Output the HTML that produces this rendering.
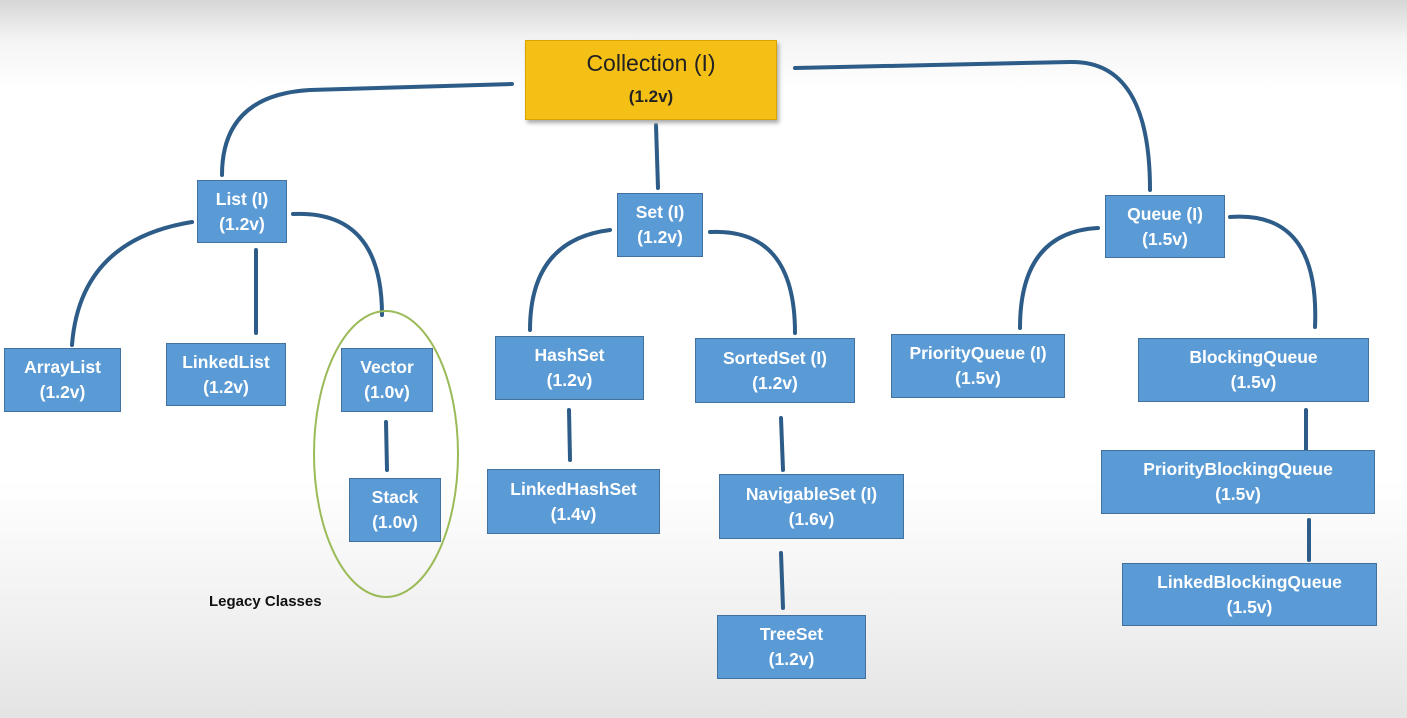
<!DOCTYPE html>
<html><head><meta charset="utf-8"><style>
html,body{margin:0;padding:0}
body{width:1407px;height:718px;position:relative;overflow:hidden;font-family:"Liberation Sans",sans-serif;
background:linear-gradient(#d6d6d6 0px,#f4f4f4 40px,#fff 90px,#fff 480px,#f0f0f0 620px,#e4e4e4 718px)}
.b{position:absolute;background:#5b9bd5;border:1px solid #41719c;color:#fff;font-weight:bold;font-size:17.5px;
display:flex;flex-direction:column;justify-content:center;align-items:center;line-height:25px;box-sizing:border-box;text-align:center;white-space:nowrap}
svg{position:absolute;left:0;top:0}
</style></head><body>
<svg width="1407" height="718">
<g fill="none" stroke="#2c5c87" stroke-width="4" stroke-linecap="round">
<path d="M512,84 L310,90 Q222,95 222,175"/>
<path d="M795,68 L1070,62 Q1150,60 1150,190"/>
<path d="M656,125 L658,188"/>
<path d="M192,222 Q80,240 72,345"/>
<path d="M256,250 L256,333"/>
<path d="M293,214 Q382,210 382,315"/>
<path d="M610,230 Q530,240 530,330"/>
<path d="M710,232 Q795,228 795,333"/>
<path d="M569,410 L570,460"/>
<path d="M781,418 L783,470"/>
<path d="M781,553 L783,608"/>
<path d="M1098,228 Q1020,232 1020,328"/>
<path d="M1230,217 Q1320,210 1315,327"/>
<path d="M1306,410 L1306,450"/>
<path d="M1309,520 L1309,560"/>
<path d="M386,422 L387,470"/>
</g>
<ellipse cx="386" cy="454" rx="72" ry="143" fill="none" stroke="#9bbb59" stroke-width="2"/>
</svg>
<div class="b" style="left:525px;top:40px;width:252px;height:80px;background:#f5c016;border-color:#d9a400;color:#222;font-weight:normal;font-size:23px;line-height:34px;box-shadow:2px 3px 4px #aaa">Collection (I)<span style="font-size:17px;font-weight:bold">(1.2v)</span></div>
<div class="b" style="left:197px;top:180px;width:90px;height:63px">List (I)<span>(1.2v)</span></div>
<div class="b" style="left:617px;top:193px;width:86px;height:64px">Set (I)<span>(1.2v)</span></div>
<div class="b" style="left:1105px;top:195px;width:120px;height:63px">Queue (I)<span>(1.5v)</span></div>
<div class="b" style="left:4px;top:348px;width:117px;height:64px">ArrayList<span>(1.2v)</span></div>
<div class="b" style="left:166px;top:343px;width:120px;height:63px">LinkedList<span>(1.2v)</span></div>
<div class="b" style="left:341px;top:348px;width:92px;height:64px">Vector<span>(1.0v)</span></div>
<div class="b" style="left:349px;top:478px;width:92px;height:64px">Stack<span>(1.0v)</span></div>
<div class="b" style="left:495px;top:336px;width:149px;height:64px">HashSet<span>(1.2v)</span></div>
<div class="b" style="left:487px;top:469px;width:173px;height:65px">LinkedHashSet<span>(1.4v)</span></div>
<div class="b" style="left:695px;top:338px;width:160px;height:65px">SortedSet (I)<span>(1.2v)</span></div>
<div class="b" style="left:719px;top:474px;width:185px;height:65px">NavigableSet (I)<span>(1.6v)</span></div>
<div class="b" style="left:717px;top:615px;width:149px;height:64px">TreeSet<span>(1.2v)</span></div>
<div class="b" style="left:891px;top:334px;width:174px;height:64px">PriorityQueue (I)<span>(1.5v)</span></div>
<div class="b" style="left:1138px;top:338px;width:231px;height:64px">BlockingQueue<span>(1.5v)</span></div>
<div class="b" style="left:1101px;top:450px;width:274px;height:64px">PriorityBlockingQueue<span>(1.5v)</span></div>
<div class="b" style="left:1122px;top:563px;width:255px;height:63px">LinkedBlockingQueue<span>(1.5v)</span></div>
<div style="position:absolute;left:209px;top:593px;font-size:15px;font-weight:bold;color:#111">Legacy Classes</div>
</body></html>
